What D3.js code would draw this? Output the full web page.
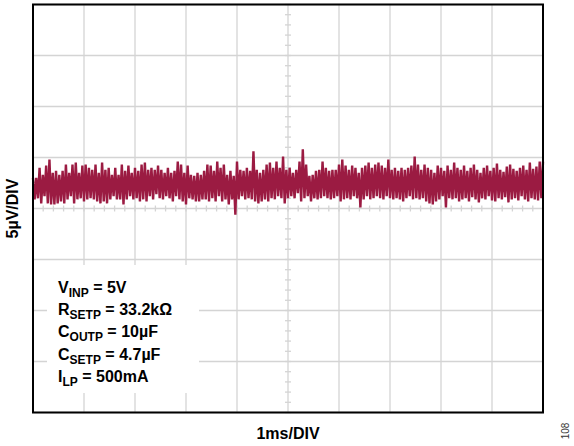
<!DOCTYPE html>
<html>
<head>
<meta charset="utf-8">
<script src="https://cdn.jsdelivr.net/npm/d3@7"></script>
<style>
  html, body { margin: 0; padding: 0; background: #fff; }
  svg { display: block; }
  text { font-family: "Liberation Sans", Arial, Helvetica, sans-serif; }
</style>
</head>
<body>
<svg id="chart" width="574" height="446"></svg>
<script>
// ---- data ----
// time axis: 10 divisions of 1 ms; voltage axis: 8 divisions of 5 µV
const xGridMs = [0, 1, 2, 3, 4, 5, 6, 7, 8, 9, 10];
const yGridUV = [-20, -15, -10, -5, 0, 5, 10, 15, 20];
const xLabel = "1ms/DIV";
const yLabel = "5µV/DIV";
const figNumber = "108";

// upper / lower excursions of the noise trace (µV), evenly spaced over 0–10 ms
const upperUV = [
  3.0,3.0,4.0,3.3,4.2,4.8,3.5,3.7,3.3,3.7,4.3,3.5,4.3,4.5,3.5,4.2,4.3,4.0,3.8,4.3,3.5,4.5,3.8,4.0,3.3,4.0,
  3.3,4.3,3.7,4.2,3.5,4.0,3.7,4.3,4.5,3.8,4.0,3.8,4.2,3.8,3.5,4.0,3.5,3.7,4.6,4.3,3.5,4.2,3.3,3.2,3.5,3.3,
  3.7,4.3,4.2,3.7,4.6,4.0,4.3,3.3,3.7,3.2,4.6,3.8,3.7,4.0,3.7,5.6,3.8,3.5,3.8,4.3,4.5,4.0,4.6,4.0,5.1,3.8,
  4.0,3.5,3.8,4.6,5.8,4.3,3.2,3.3,3.7,3.8,4.6,4.0,3.7,3.8,3.8,4.3,4.8,4.2,3.8,4.2,4.0,3.5,4.0,4.2,4.5,4.0,
  4.3,4.5,4.2,4.0,4.8,3.8,4.0,3.7,4.0,3.8,4.0,4.2,5.1,4.3,3.8,4.3,4.0,3.8,3.5,4.2,4.0,3.7,4.2,3.8,4.5,4.0,
  3.8,4.2,3.7,4.0,4.3,3.8,3.5,4.0,4.2,3.7,4.0,4.4,3.8,3.6,4.1,4.3,3.9,3.7,4.0,4.2,3.8,4.5,3.9,4.1,4.6
];
const lowerUV = [
  0.9,1.0,0.5,1.2,0.5,0.4,0.4,0.5,0.7,0.5,0.9,1.2,0.5,0.9,1.0,0.7,0.9,1.0,0.9,0.7,0.5,0.7,0.5,0.9,1.2,0.9,
  0.9,0.4,0.9,1.2,0.9,1.0,0.7,0.9,0.7,1.2,0.9,1.4,1.0,0.9,1.2,1.0,0.7,1.2,0.9,0.7,0.4,1.0,0.9,0.7,0.7,0.9,
  0.9,0.7,1.0,0.7,1.2,0.7,0.9,0.4,0.9,-0.6,0.9,1.2,0.9,1.0,0.9,0.7,0.5,0.7,0.9,0.7,1.0,0.9,1.2,1.0,0.5,1.0,
  1.2,1.0,1.5,0.7,1.0,1.2,0.7,1.0,0.9,1.0,1.2,1.0,0.9,1.0,1.2,0.7,0.9,1.0,0.9,1.2,1.0,0.1,0.9,1.2,0.9,1.0,
  1.2,1.0,0.9,1.2,1.0,0.9,1.0,0.9,0.7,1.0,1.2,0.9,1.0,0.9,1.0,0.7,0.5,0.4,0.7,0.9,1.2,0.1,1.0,0.9,1.0,0.7,
  0.9,1.0,0.7,1.1,0.9,0.6,1.0,0.9,1.2,0.8,0.7,1.0,0.9,1.1,0.6,0.9,1.0,0.8,1.2,0.9,0.7,1.0,0.9,0.8,1.0
];

const legendMain = ["V", "R", "C", "C", "I"];
const legendSub  = ["INP", "SETP", "OUTP", "SETP", "LP"];
const legendRest = [" = 5V", " = 33.2kΩ", " = 10µF", " = 4.7µF", " = 500mA"];

// ---- layout ----
const svg = d3.select("#chart");
const plotLeft = 33, plotTop = 4.5, plotW = 510, plotH = 408;
const traceColor = "#9b1b42";
const gridColor = "#d4d4d4";

const x = d3.scaleLinear().domain([0, 10]).range([plotLeft, plotLeft + plotW]);
const y = d3.scaleLinear().domain([-20, 20]).range([plotTop + plotH, plotTop]);

const g = svg.append("g");

// grid
g.selectAll("line.vgrid").data(xGridMs).join("line")
  .attr("x1", d => x(d)).attr("x2", d => x(d))
  .attr("y1", plotTop).attr("y2", plotTop + plotH)
  .attr("stroke", gridColor).attr("stroke-width", 1.3);
g.selectAll("line.hgrid").data(yGridUV).join("line")
  .attr("y1", d => y(d)).attr("y2", d => y(d))
  .attr("x1", plotLeft).attr("x2", plotLeft + plotW)
  .attr("stroke", gridColor).attr("stroke-width", 1.3);

// minor ticks on center axes (5 per division)
const xMinor = d3.range(0, 10.0001, 0.2);
const yMinor = d3.range(-20, 20.0001, 1);
g.selectAll("line.xminor").data(xMinor).join("line")
  .attr("x1", d => x(d)).attr("x2", d => x(d))
  .attr("y1", y(0) - 3).attr("y2", y(0) + 3)
  .attr("stroke", gridColor).attr("stroke-width", 1.3);
g.selectAll("line.yminor").data(yMinor).join("line")
  .attr("y1", d => y(d)).attr("y2", d => y(d))
  .attr("x1", x(5) - 3).attr("x2", x(5) + 3)
  .attr("stroke", gridColor).attr("stroke-width", 1.3);

// noise trace: alternate between upper and lower excursions
const n = upperUV.length;
const step = 10 / n;
const pts = [];
for (let i = 0; i < n; i++) {
  pts.push([i * step, upperUV[i]]);
  pts.push([i * step + step / 2, lowerUV[i]]);
}
pts.push([10, upperUV[n - 1]]);
const line = d3.line().x(d => x(d[0])).y(d => y(d[1]));
g.append("path").datum(pts)
  .attr("d", line)
  .attr("fill", "none")
  .attr("stroke", traceColor)
  .attr("stroke-width", 2.4)
  .attr("stroke-linejoin", "bevel");

// legend box (hides grid behind text)
g.append("rect")
  .attr("x", 47).attr("y", 265).attr("width", 152).attr("height", 128)
  .attr("fill", "#fff");

legendMain.forEach((m, i) => {
  const t = g.append("text")
    .attr("x", 58).attr("y", 293 + i * 22.2)
    .attr("font-weight", "bold").attr("font-size", 16).attr("fill", "#000");
  t.append("tspan").text(m);
  t.append("tspan").attr("font-size", 12).attr("dy", 4).text(legendSub[i]);
  t.append("tspan").attr("dy", -4).text(legendRest[i]);
});

// frame
g.append("rect")
  .attr("x", plotLeft).attr("y", plotTop).attr("width", plotW).attr("height", plotH)
  .attr("fill", "none").attr("stroke", "#000").attr("stroke-width", 2);

// axis labels
svg.append("text")
  .attr("x", x(5)).attr("y", 439)
  .attr("text-anchor", "middle")
  .attr("font-weight", "bold").attr("font-size", 16)
  .text(xLabel);
svg.append("text")
  .attr("transform", `translate(18,${y(0)}) rotate(-90)`)
  .attr("text-anchor", "middle")
  .attr("font-weight", "bold").attr("font-size", 16)
  .text(yLabel);
svg.append("text")
  .attr("transform", "translate(569,431) rotate(-90)")
  .attr("text-anchor", "middle")
  .attr("font-size", 10).attr("fill", "#333")
  .text(figNumber);
</script>
</body>
</html>
